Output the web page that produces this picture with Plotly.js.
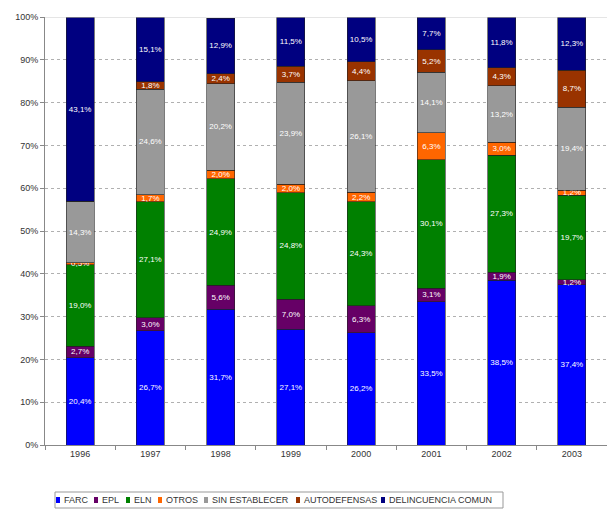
<!DOCTYPE html>
<html>
<head>
<meta charset="utf-8">
<script src="https://cdn.plot.ly/plotly-3.0.1.min.js"></script>
<style>html,body{margin:0;padding:0;background:#fff;}#chart{width:607px;height:510px;}</style>
</head>
<body>
<div id="chart"></div>
<script>
var years = ['1996','1997','1998','1999','2000','2001','2002','2003'];
var seriesNames = ['FARC','EPL','ELN','OTROS','SIN ESTABLECER','AUTODEFENSAS','DELINCUENCIA COMUN'];
var farc   = [20.4, 26.7, 31.7, 27.1, 26.2, 33.5, 38.5, 37.4];
var epl    = [2.7, 3.0, 5.6, 7.0, 6.3, 3.1, 1.9, 1.2];
var eln    = [19.0, 27.1, 24.9, 24.8, 24.3, 30.1, 27.3, 19.7];
var otros  = [0.5, 1.7, 2.0, 2.0, 2.2, 6.3, 3.0, 1.2];
var sinEst = [14.3, 24.6, 20.2, 23.9, 26.1, 14.1, 13.2, 19.4];
var autod  = [0.0, 1.8, 2.4, 3.7, 4.4, 5.2, 4.3, 8.7];
var delinc = [43.1, 15.1, 12.9, 11.5, 10.5, 7.7, 11.8, 12.3];
var yTicks = [0,10,20,30,40,50,60,70,80,90,100];
var yTickLabels = ['0%','10%','20%','30%','40%','50%','60%','70%','80%','90%','100%'];

var colors = ['#0000FF','#660066','#008000','#FF6600','#999999','#993300','#000080'];
var allSeries = [farc, epl, eln, otros, sinEst, autod, delinc];

function lbl(v){ return v > 0 ? v.toFixed(1).replace('.', ',') + '%' : ''; }

var traces = allSeries.map(function(vals, i){
  return {
    type: 'bar',
    name: seriesNames[i],
    x: years,
    y: vals,
    text: vals.map(lbl),
    textposition: 'inside',
    insidetextanchor: 'middle',
    constraintext: 'none',
    textangle: 0,
    textfont: {family: 'Liberation Sans, Arial, sans-serif', size: 8, color: '#ffffff'},
    marker: {color: colors[i], line: {color: '#222222', width: 0.6}},
    hoverinfo: 'skip',
    showlegend: false
  };
});

// Manual legend (shapes + annotations), entries taken from seriesNames/colors
var legX = [58, 96, 128, 160, 206, 298, 383];
var shapes = [
  {type:'rect', xref:'paper', yref:'paper', x0:(55-45)/562, x1:(503-45)/562, y0:(445-508)/428, y1:(445-492)/428, line:{color:'#999999', width:1}, fillcolor:'rgba(0,0,0,0)'},
  {type:'line', xref:'paper', yref:'y', x0:0, x1:1, y0:100, y1:100, line:{color:'#cccccc', width:1}}
];
var annotations = [];
seriesNames.forEach(function(n, i){
  var px = legX[i];
  shapes.push({type:'rect', xref:'paper', yref:'paper',
    x0:(px-2-45)/562, x1:(px+2-45)/562,
    y0:(445-503)/428, y1:(445-497)/428,
    fillcolor: colors[i], line:{width:0}});
  annotations.push({xref:'paper', yref:'paper', x:(px+4-45)/562, y:(445-500)/428,
    xanchor:'left', yanchor:'middle', showarrow:false, text:n,
    font:{family:'Liberation Sans, Arial, sans-serif', size:9, color:'#333333'}});
});

var layout = {
  width: 607, height: 510,
  margin: {l:45, r:0, t:17, b:65},
  paper_bgcolor: '#ffffff', plot_bgcolor: '#ffffff',
  barmode: 'stack',
  bargap: 0.6,
  showlegend: false,
  font: {family: 'Liberation Sans, Arial, sans-serif', size: 9, color: '#333333'},
  xaxis: {
    type: 'category',
    showline: true, linecolor: '#888888', linewidth: 1,
    ticks: 'outside', tickson: 'boundaries', ticklen: 4, tickcolor: '#888888',
    showgrid: false, zeroline: false,
    tickfont: {size: 9, color: '#333333'}
  },
  yaxis: {
    range: [0, 100],
    tickvals: yTicks, ticktext: yTickLabels,
    showline: true, linecolor: '#888888', linewidth: 1,
    ticks: 'outside', ticklen: 4, tickcolor: '#888888',
    showgrid: true, gridcolor: '#b0b0b0', griddash: 'dot', gridwidth: 1,
    zeroline: false,
    tickfont: {size: 9, color: '#333333'}
  },
  shapes: shapes,
  annotations: annotations
};

Plotly.newPlot('chart', traces, layout, {displayModeBar: false, staticPlot: true});
</script>
</body>
</html>
